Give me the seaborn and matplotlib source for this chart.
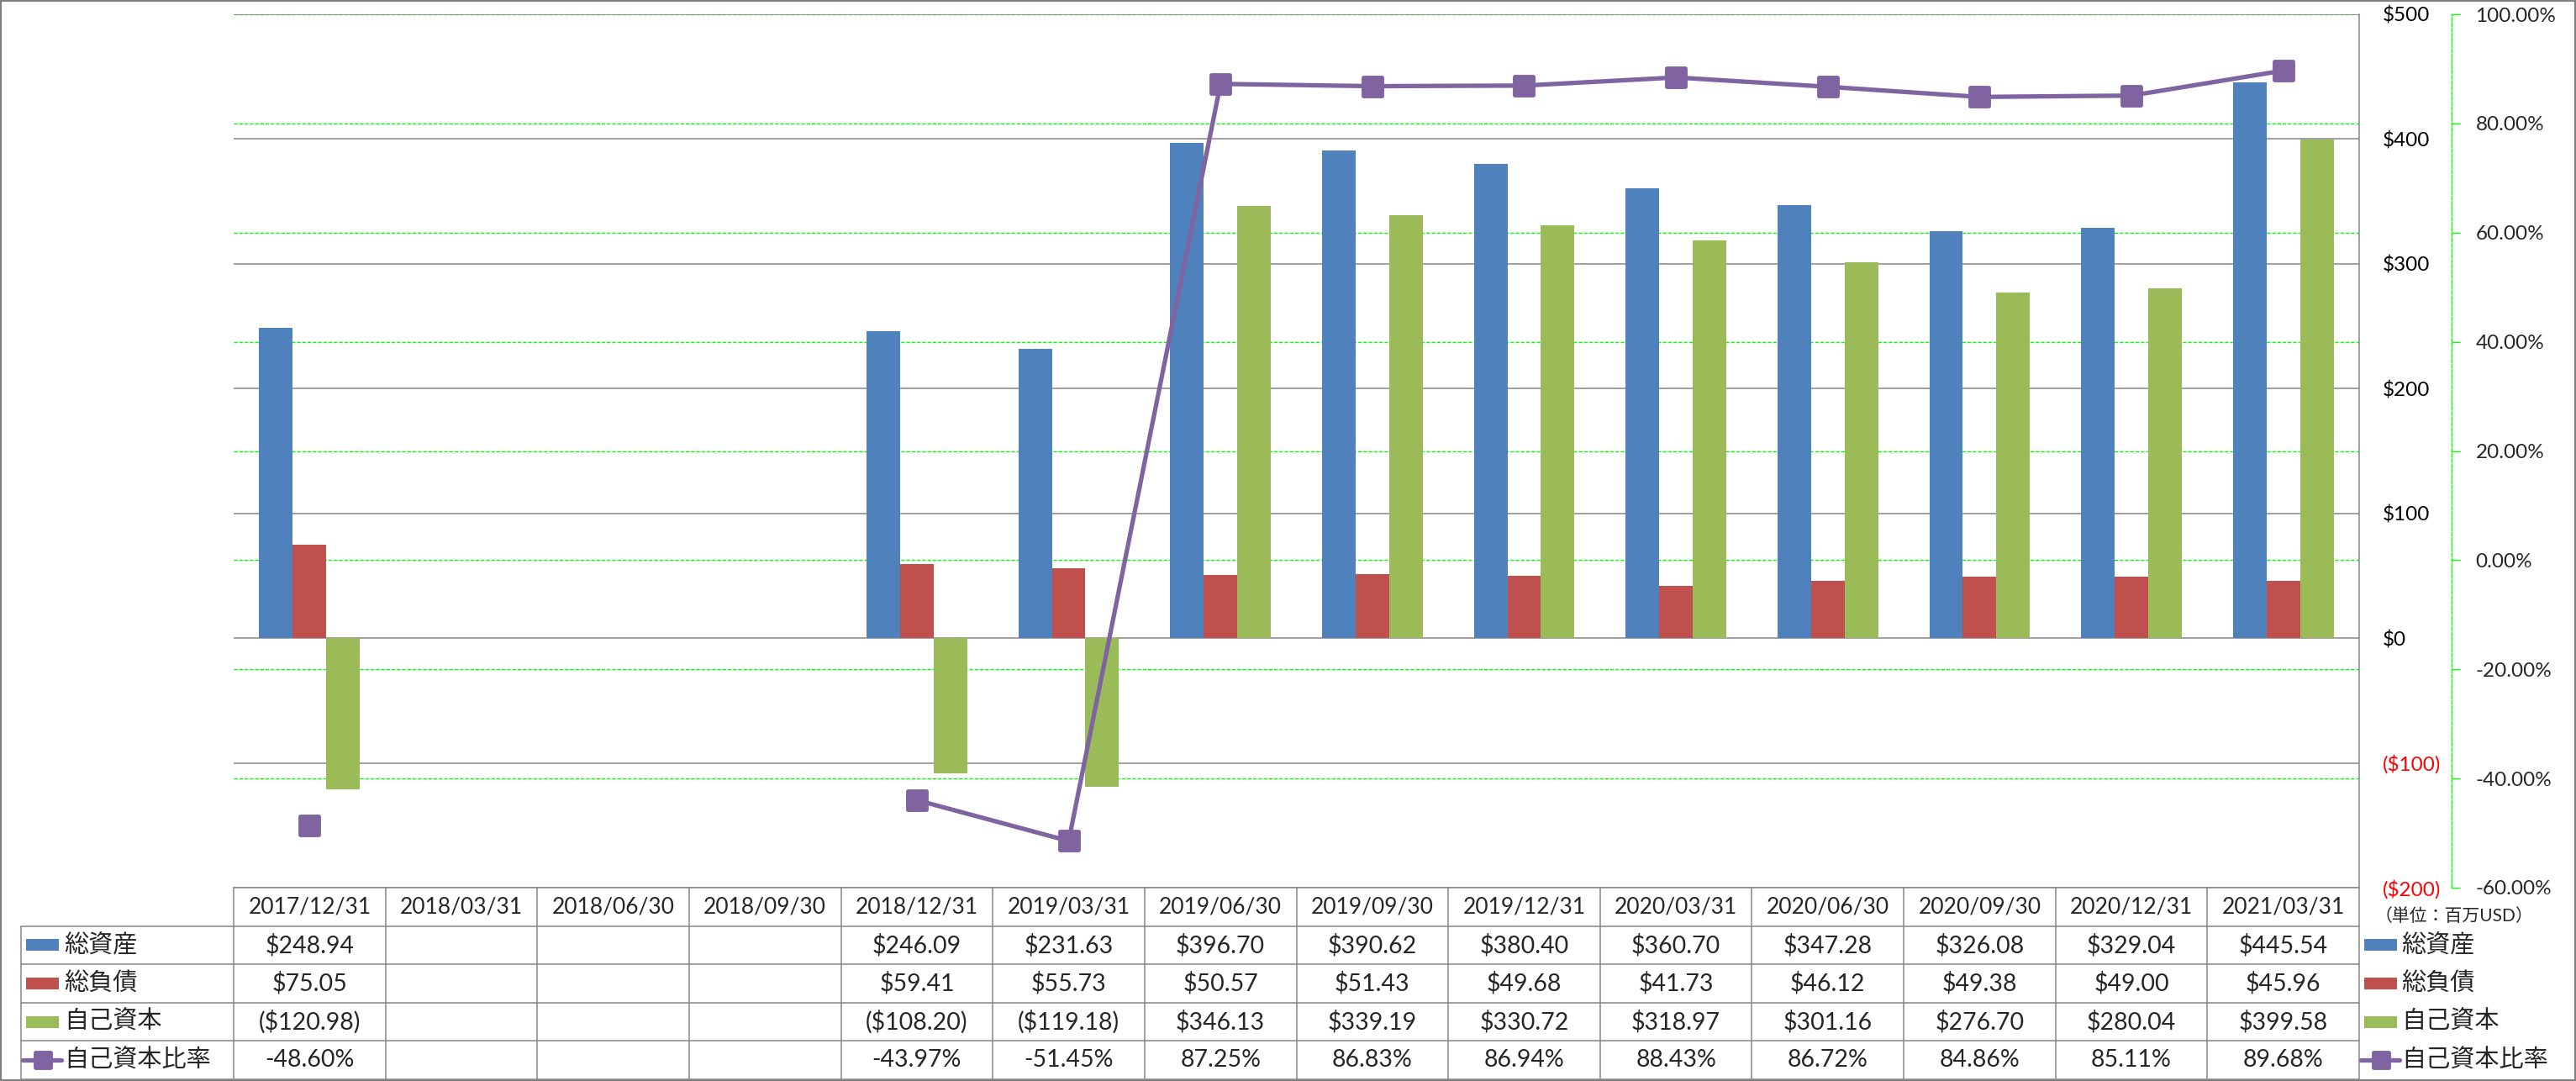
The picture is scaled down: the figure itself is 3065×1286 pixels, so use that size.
import numpy as np
import pandas as pd
import matplotlib
matplotlib.use("Agg")
import matplotlib.pyplot as plt
import seaborn as sns
from matplotlib.markers import MarkerStyle
from matplotlib.patches import Rectangle
from matplotlib.lines import Line2D
from matplotlib.transforms import blended_transform_factory

# Data (values in million USD, ratio in %)
dates = ["2017/12/31", "2018/03/31", "2018/06/30", "2018/09/30", "2018/12/31",
         "2019/03/31", "2019/06/30", "2019/09/30", "2019/12/31", "2020/03/31",
         "2020/06/30", "2020/09/30", "2020/12/31", "2021/03/31"]
total_assets = [248.94, np.nan, np.nan, np.nan, 246.09, 231.63, 396.70, 390.62,
                380.40, 360.70, 347.28, 326.08, 329.04, 445.54]
total_liabilities = [75.05, np.nan, np.nan, np.nan, 59.41, 55.73, 50.57, 51.43,
                     49.68, 41.73, 46.12, 49.38, 49.00, 45.96]
equity = [-120.98, np.nan, np.nan, np.nan, -108.20, -119.18, 346.13, 339.19,
          330.72, 318.97, 301.16, 276.70, 280.04, 399.58]
equity_ratio = [-48.60, np.nan, np.nan, np.nan, -43.97, -51.45, 87.25, 86.83,
                86.94, 88.43, 86.72, 84.86, 85.11, 89.68]

series_names = ["総資産", "総負債", "自己資本"]
ratio_name = "自己資本比率"
unit_label = "（単位：百万USD）"
usd_ticks = [-200, -100, 0, 100, 200, 300, 400, 500]
pct_ticks = [-60, -40, -20, 0, 20, 40, 60, 80, 100]

bar_colors = ["#4F81BD", "#C0504D", "#9BBB59"]
line_color = "#8064A2"
grid_gray = "#868686"
grid_green = "#00FF00"
border_gray = "#808080"

W, H, DPI = 3065, 1286, 100

sns.set_theme(style="white")
plt.rcParams["font.family"] = ["Lato", "Noto Sans CJK JP", "DejaVu Sans"]


def fx(px):
    return px / W


def fy(py):
    return 1 - py / H


def money(v, dec=0):
    s = f"${abs(v):,.{dec}f}"
    return s if v >= 0 else f"({s})"


fig = plt.figure(figsize=(W / DPI, H / DPI), dpi=DPI)
fig.patch.set_facecolor("white")

plot_l, plot_r, plot_t, plot_b = 278, 2807, 17, 1056
ax = fig.add_axes([fx(plot_l), fy(plot_b), (plot_r - plot_l) / W, (plot_b - plot_t) / H])

df = pd.DataFrame({"date": dates, series_names[0]: total_assets,
                   series_names[1]: total_liabilities, series_names[2]: equity})
long = df.melt(id_vars="date", var_name="item", value_name="value").dropna()

sns.barplot(data=long, x="date", y="value", hue="item", order=dates,
            hue_order=series_names, palette=bar_colors, width=0.663,
            saturation=1, errorbar=None, legend=False, linewidth=0, ax=ax)

ax_pct = ax.twinx()
ax_line = ax.twinx()
ax_pct.set_zorder(0)
ax.set_zorder(1)
ax_line.set_zorder(2)
for a in (ax, ax_pct, ax_line):
    a.patch.set_visible(False)

# $ axis
ax.set_ylim(-200, 500)
ax.set_xlim(-0.5, len(dates) - 0.5)
ax.set_axisbelow(True)
ax.yaxis.tick_right()
ax.set_yticks(usd_ticks, labels=[money(t) for t in usd_ticks])
for lbl, t in zip(ax.get_yticklabels(), usd_ticks):
    lbl.set_color("red" if t < 0 else "black")
ax.tick_params(axis="y", length=0, pad=20, labelsize=17.5)
ax.tick_params(axis="x", length=0, labelbottom=False)
ax.set_xlabel("")
ax.set_ylabel("")
ax.grid(axis="y", color=grid_gray, linewidth=1.1)
for side in ("left", "top", "bottom"):
    ax.spines[side].set_visible(False)
ax.spines["right"].set_color(grid_gray)
ax.spines["right"].set_linewidth(1.1)

# % axis
ax_pct.set_ylim(-60, 100)
ax_pct.set_yticks(pct_ticks, labels=[f"{t:.2f}%" for t in pct_ticks])
for lbl, t in zip(ax_pct.get_yticklabels(), pct_ticks):
    lbl.set_color("red" if t < 0 else "black")
ax_pct.tick_params(axis="y", direction="out", length=7, width=1,
                   color=grid_green, pad=13.5, labelsize=17.5)
ax_pct.grid(axis="y", color=grid_green, linestyle=(0, (3, 1.5)), linewidth=1)
for side in ("left", "top", "bottom"):
    ax_pct.spines[side].set_visible(False)
ax_pct.spines["right"].set_position(("axes", (2917 - plot_l) / (plot_r - plot_l)))
ax_pct.spines["right"].set_color(grid_green)
ax_pct.spines["right"].set_linestyle((0, (3, 1.5)))
ax_pct.spines["right"].set_linewidth(1)

# ratio line, broken where data is missing
square = MarkerStyle("s", joinstyle="round")
ratio = np.array(equity_ratio, dtype=float)
pos = np.arange(len(dates))
ok = pos[~np.isnan(ratio)]
runs = np.split(ok, np.where(np.diff(ok) != 1)[0] + 1)
for run in runs:
    sns.lineplot(x=pos[run], y=ratio[run], ax=ax_line, color=line_color,
                 linewidth=3.8, marker=square, markersize=16,
                 markeredgewidth=3.5, markeredgecolor=line_color,
                 markerfacecolor=line_color)
ax_line.set_ylim(-60, 100)
ax_line.set_xlim(-0.5, len(dates) - 0.5)
ax_line.tick_params(axis="both", length=0, labelright=False, labelleft=False,
                    labelbottom=False)
ax_line.set_xlabel("")
ax_line.set_ylabel("")
for s in ax_line.spines.values():
    s.set_visible(False)

# data table below the plot
tb = blended_transform_factory(ax.transData, fig.transFigure)
row_top = [1056, 1101.6, 1147.2, 1192.8, 1238.4, 1284]
row_mid = [(row_top[i] + row_top[i + 1]) / 2 for i in range(5)]
line_kw = dict(color=grid_gray, linewidth=1.1)

for i in range(len(dates) + 1):
    fig.add_artist(Line2D([i - 0.5, i - 0.5], [fy(1056), fy(1284)], transform=tb, **line_kw))
fig.add_artist(Line2D([fx(25), fx(25)], [fy(1101.6), fy(1284)], transform=fig.transFigure, **line_kw))
fig.add_artist(Line2D([fx(plot_l), fx(plot_r)], [fy(1056)] * 2, transform=fig.transFigure, **line_kw))
for y in row_top[1:]:
    fig.add_artist(Line2D([fx(25), fx(plot_r)], [fy(y)] * 2, transform=fig.transFigure, **line_kw))

rows = [[money(v, 2) if not np.isnan(v) else "" for v in total_assets],
        [money(v, 2) if not np.isnan(v) else "" for v in total_liabilities],
        [money(v, 2) if not np.isnan(v) else "" for v in equity],
        [f"{v:.2f}%" if not np.isnan(v) else "" for v in equity_ratio]]

for i, d in enumerate(dates):
    fig.text(i, fy(row_mid[0]), d, transform=tb, ha="center", va="center", fontsize=19)
    for r, vals in enumerate(rows):
        fig.text(i, fy(row_mid[r + 1]), vals[i], transform=tb, ha="center",
                 va="center", fontsize=20.5)

# legend keys: left in the table, right next to it
labels = series_names + [ratio_name]
for x0, x1, tx in ((31, 70, 76), (2813, 2852, 2857)):
    for r, name in enumerate(labels):
        yc = row_mid[r + 1]
        if r < 3:
            fig.add_artist(Rectangle((fx(x0), fy(yc + 7)), (x1 - x0) / W, 14 / H,
                                     transform=fig.transFigure, color=bar_colors[r],
                                     linewidth=0))
        else:
            fig.add_artist(Line2D([fx(x0 - 4), fx(x1 + 3)], [fy(yc)] * 2,
                                  transform=fig.transFigure, color=line_color,
                                  linewidth=3.8))
            fig.add_artist(Line2D([fx((x0 + x1) / 2)], [fy(yc)], transform=fig.transFigure,
                                  marker=square, markersize=13, markeredgewidth=3.5,
                                  color=line_color))
        fig.text(fx(tx), fy(yc), name, ha="left", va="center", fontsize=21)

fig.text(fx(2920), fy(1090), unit_label, ha="center", va="center", fontsize=15)

fig.add_artist(Rectangle((0, 0), 1, 1, transform=fig.transFigure, fill=False,
                         edgecolor=border_gray, linewidth=3))

fig.savefig("out.png", dpi=DPI)
